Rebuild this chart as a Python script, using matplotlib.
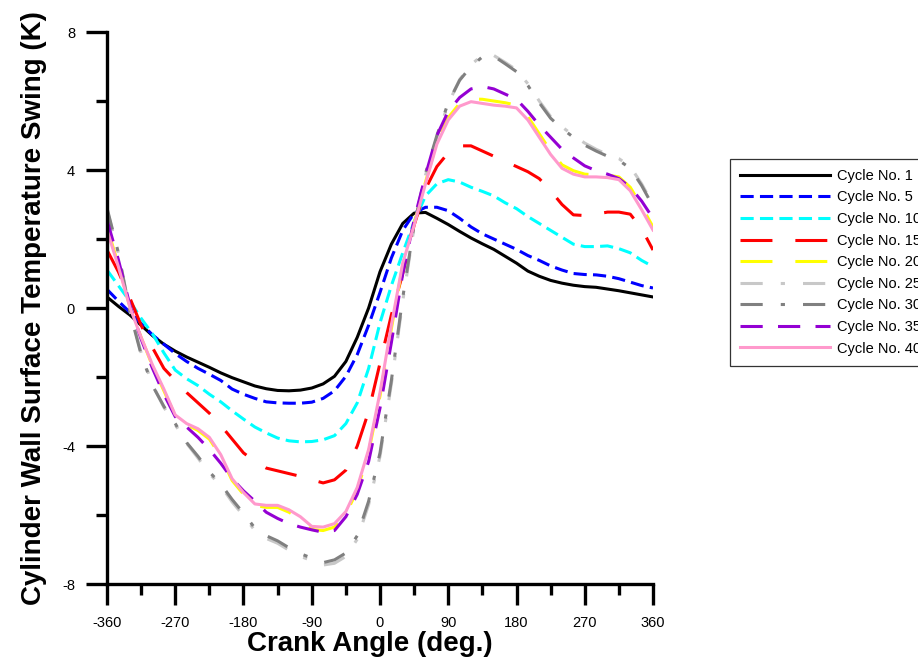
import matplotlib
matplotlib.use("Agg")
import matplotlib.pyplot as plt
from matplotlib.ticker import MultipleLocator

plt.rcParams['font.family'] = ['Liberation Sans', 'DejaVu Sans']
plt.rcParams['lines.scale_dashes'] = False
plt.rcParams['axes.unicode_minus'] = False

angle = list(range(-360, 361, 15))

cycle1 = [0.32, 0.05, -0.20, -0.50, -0.80, -1.05, -1.25, -1.42, -1.57, -1.72, -1.88, -2.02, -2.14,
          -2.26, -2.34, -2.39, -2.40, -2.38, -2.32, -2.20, -1.98, -1.55, -0.85, 0.00, 1.05,
          1.85, 2.45, 2.75, 2.77, 2.60, 2.42, 2.22, 2.03, 1.86, 1.70, 1.50, 1.30, 1.07, 0.92,
          0.80, 0.72, 0.66, 0.62, 0.60, 0.55, 0.50, 0.44, 0.38, 0.32]
cycle5 = [0.54, 0.20, -0.12, -0.45, -0.78, -1.05, -1.32, -1.55, -1.75, -1.92, -2.10, -2.35, -2.50,
          -2.62, -2.72, -2.75, -2.76, -2.76, -2.73, -2.62, -2.40, -1.98, -1.35, -0.50, 0.45,
          1.45, 2.25, 2.75, 2.92, 2.92, 2.82, 2.60, 2.35, 2.15, 2.00, 1.85, 1.70, 1.52, 1.38,
          1.22, 1.10, 1.00, 0.97, 0.96, 0.92, 0.85, 0.75, 0.65, 0.58]
cycle10 = [1.10, 0.65, 0.20, -0.30, -0.75, -1.30, -1.80, -2.05, -2.25, -2.50, -2.72, -2.98, -3.22,
           -3.45, -3.62, -3.77, -3.85, -3.88, -3.87, -3.82, -3.70, -3.35, -2.75, -1.75, -0.43,
           0.65, 1.60, 2.50, 3.25, 3.60, 3.72, 3.65, 3.50, 3.38, 3.25, 3.05, 2.88, 2.65, 2.45,
           2.25, 2.05, 1.85, 1.78, 1.78, 1.80, 1.72, 1.60, 1.38, 1.20]
cycle15 = [1.68, 1.05, 0.30, -0.50, -1.15, -1.75, -2.10, -2.45, -2.75, -3.05, -3.40, -3.80, -4.20,
           -4.45, -4.64, -4.72, -4.80, -4.88, -4.98, -5.07, -4.98, -4.70, -4.00, -3.00, -1.60,
           -0.20, 1.00, 2.40, 3.45, 4.10, 4.50, 4.70, 4.70, 4.55, 4.40, 4.25, 4.10, 3.95, 3.75,
           3.40, 3.00, 2.70, 2.68, 2.72, 2.78, 2.78, 2.72, 2.30, 1.68]
cycle20 = [2.35, 1.25, 0.05, -0.85, -1.68, -2.40, -3.12, -3.38, -3.55, -3.80, -4.30, -5.00, -5.40,
           -5.72, -5.78, -5.78, -5.92, -6.12, -6.42, -6.45, -6.35, -5.98, -5.28, -4.18, -2.55,
           -0.60, 1.25, 2.45, 3.65, 4.80, 5.52, 5.93, 6.06, 6.05, 6.00, 5.95, 5.88, 5.55, 5.05,
           4.55, 4.15, 3.98, 3.88, 3.86, 3.85, 3.80, 3.50, 2.95, 2.35]
cycle25 = [2.85, 1.60, -0.05, -1.30, -2.22, -2.88, -3.38, -3.92, -4.35, -4.80, -5.15, -5.62, -6.02,
           -6.45, -6.68, -6.82, -7.02, -7.20, -7.32, -7.45, -7.40, -7.20, -6.70, -5.70, -4.30,
           -2.20, 0.20, 2.35, 3.85, 4.95, 5.92, 6.62, 7.05, 7.33, 7.32, 7.12, 6.90, 6.50, 6.00,
           5.55, 5.25, 5.00, 4.78, 4.60, 4.45, 4.33, 4.10, 3.60, 3.00]
cycle30 = [2.90, 1.60, -0.10, -1.35, -2.25, -2.85, -3.35, -3.90, -4.30, -4.75, -5.10, -5.55, -5.95,
           -6.38, -6.60, -6.75, -6.95, -7.12, -7.25, -7.38, -7.30, -7.10, -6.60, -5.60, -4.20,
           -2.10, 0.30, 2.40, 3.90, 5.00, 5.95, 6.60, 7.00, 7.28, 7.30, 7.08, 6.85, 6.45, 5.95,
           5.50, 5.20, 4.95, 4.72, 4.55, 4.40, 4.28, 4.05, 3.55, 2.95]
cycle35 = [2.55, 1.40, 0.10, -0.90, -1.75, -2.50, -3.15, -3.45, -3.75, -4.10, -4.50, -4.95, -5.30,
           -5.60, -5.92, -6.10, -6.25, -6.35, -6.43, -6.50, -6.45, -6.05, -5.40, -4.45, -2.90,
           -1.00, 1.00, 2.55, 3.85, 5.00, 5.70, 6.10, 6.35, 6.42, 6.35, 6.20, 6.05, 5.70, 5.30,
           4.95, 4.60, 4.35, 4.12, 3.98, 3.88, 3.75, 3.50, 3.10, 2.60]
cycle40 = [2.26, 1.20, 0.03, -0.85, -1.65, -2.35, -3.10, -3.35, -3.50, -3.75, -4.25, -4.95, -5.35,
           -5.68, -5.72, -5.72, -5.85, -6.05, -6.33, -6.35, -6.25, -5.90, -5.20, -4.10, -2.45,
           -0.50, 1.30, 2.40, 3.60, 4.75, 5.45, 5.85, 5.98, 5.93, 5.88, 5.85, 5.80, 5.45, 4.95,
           4.45, 4.05, 3.88, 3.80, 3.80, 3.78, 3.72, 3.40, 2.85, 2.26]

labels = ['Cycle No. 1', 'Cycle No. 5', 'Cycle No. 10', 'Cycle No. 15', 'Cycle No. 20',
          'Cycle No. 25', 'Cycle No. 30', 'Cycle No. 35', 'Cycle No. 40']
series = [cycle1, cycle5, cycle10, cycle15, cycle20, cycle25, cycle30, cycle35, cycle40]
colors = ['#000000', '#0000ff', '#00ffff', '#ff0000', '#ffff00', '#c8c8c8', '#808080',
          '#9400d3', '#ff99cc']
styles = ['-', (0, (9.5, 4.5)), (0, (9.5, 4.5)), (0, (23, 16.5)), (0, (23, 16.5)),
          (0, (16, 13, 3, 13)), (0, (16, 13, 3, 13)), (0, (16, 11)), '-']

xticks = [-360, -270, -180, -90, 0, 90, 180, 270, 360]
yticks = [-8, -4, 0, 4, 8]

fig = plt.figure(figsize=(9.18, 6.61), dpi=100)
ax = fig.add_axes([107/918, 1 - 584/661, (653 - 107)/918, (584 - 32)/661])

for y, lab, c, ls in zip(series, labels, colors, styles):
    ax.plot(angle, y, color=c, linestyle=ls, linewidth=2.2, label=lab)

ax.set_xlim(-360, 360)
ax.set_ylim(-8, 8)
ax.set_xticks(xticks)
ax.set_yticks(yticks)
ax.xaxis.set_minor_locator(MultipleLocator(45))
ax.yaxis.set_minor_locator(MultipleLocator(2))
for s in ['top', 'right']:
    ax.spines[s].set_visible(False)
for s in ['left', 'bottom']:
    ax.spines[s].set_linewidth(2.4)
ax.tick_params(which='major', direction='out', length=15, width=2.4, labelsize=10.5, pad=8)
ax.tick_params(which='minor', direction='out', length=8, width=2.4)
ax.set_xlabel('Crank Angle (deg.)', fontsize=20, fontweight='bold', labelpad=1)
ax.xaxis.label.set_x(0.482)
ax.set_ylabel('Cylinder Wall Surface Temperature Swing (K)', fontsize=20, fontweight='bold', labelpad=11)

leg = fig.legend(loc='upper left', bbox_to_anchor=(730/918, 1 - 159/661), fontsize=10.5,
                 handlelength=6.2, handletextpad=0.45, labelspacing=0.52, borderpad=0.68,
                 frameon=True, fancybox=False, borderaxespad=0)
leg.get_frame().set_edgecolor('black')
leg.get_frame().set_linewidth(0.9)

fig.savefig('out.png', dpi=100)
